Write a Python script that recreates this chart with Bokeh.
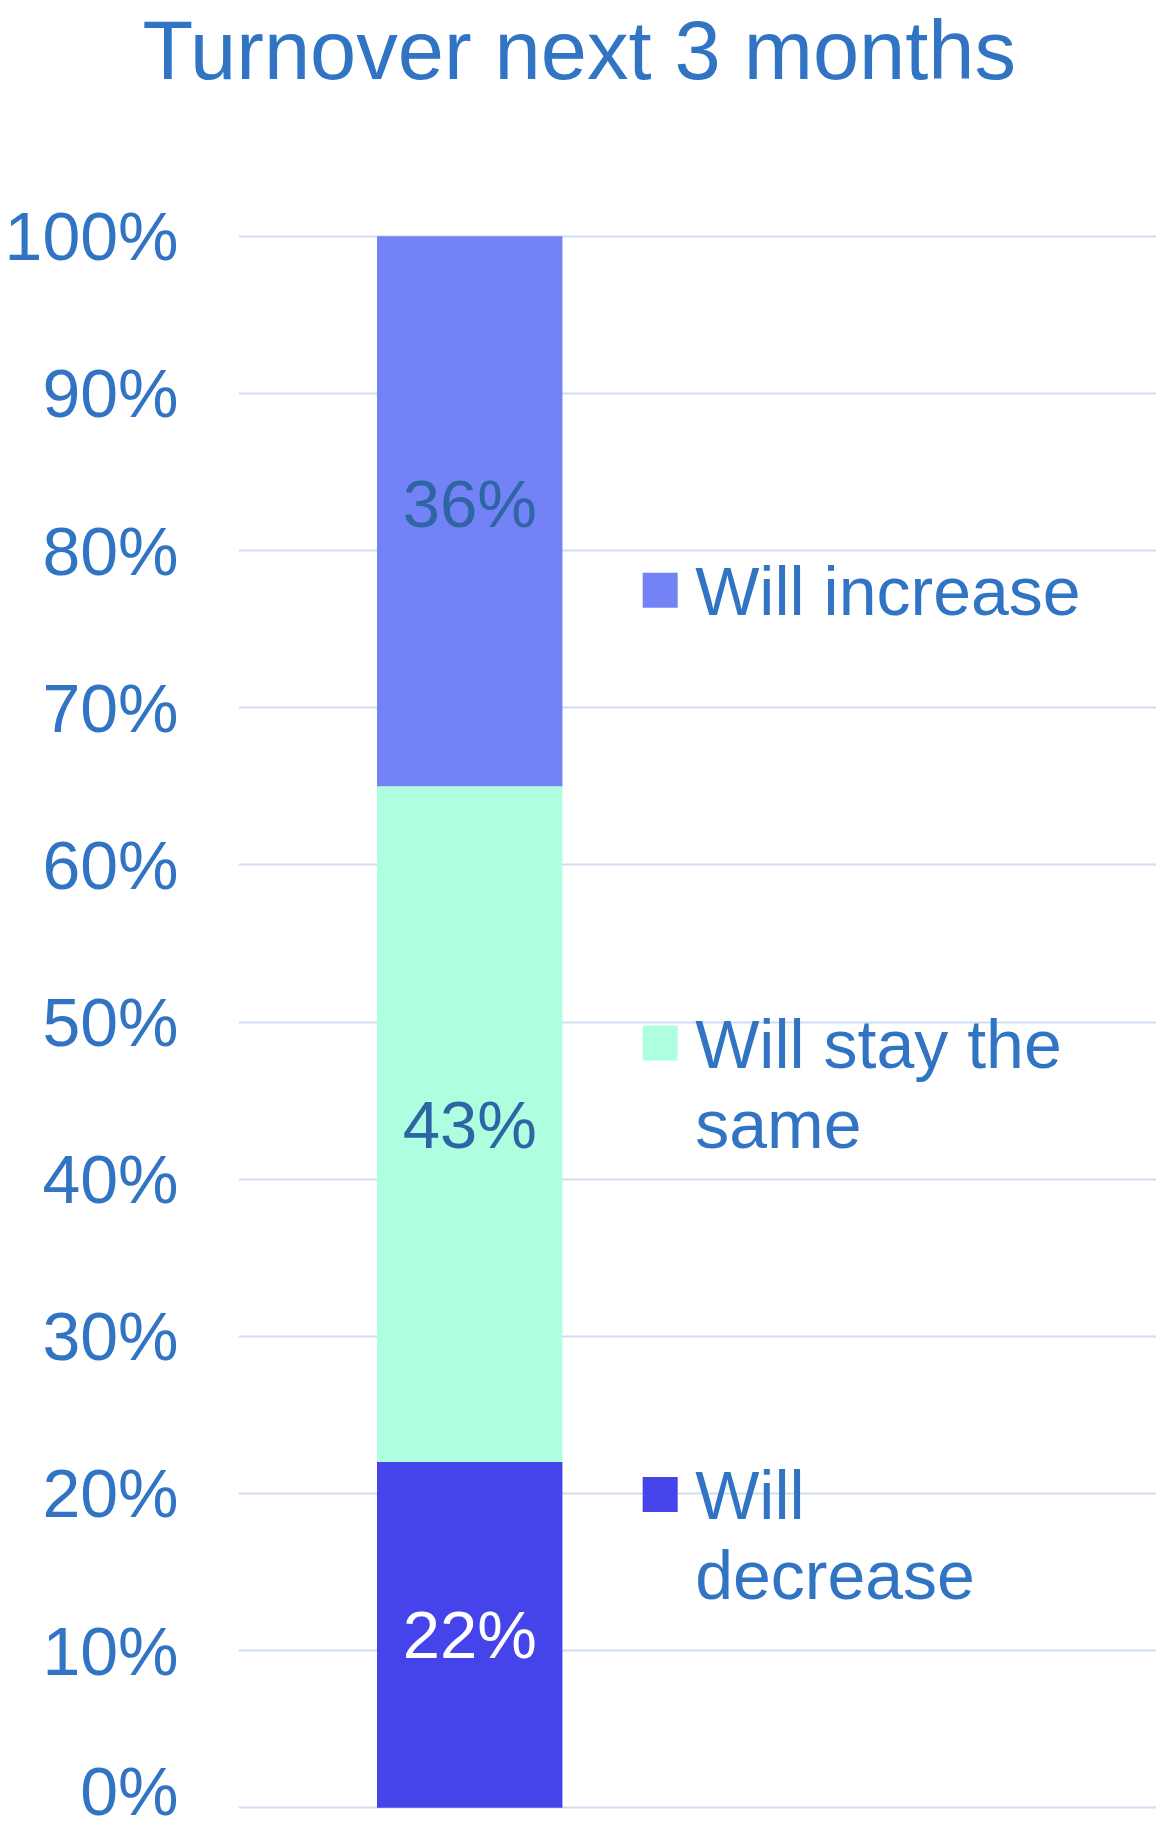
from bokeh.plotting import figure
from bokeh.models import Range1d, FixedTicker, ColumnDataSource, Title
from bokeh.core.properties import value
from bokeh.embed import file_html
from bokeh.resources import INLINE

# ---- data ----
title_text = "Turnover next 3 months"
series_names = ["Will decrease", "Will stay the same", "Will increase"]
series_values = [0.22, 0.43, 0.36]
series_labels = ["22%", "43%", "36%"]
series_colors = ["#4543EA", "#AEFFE0", "#7383F5"]
label_colors = ["#FFFFFF", "#2E65A5", "#2E65A5"]
legend_lines = [["Will", "decrease"], ["Will stay the", "same"], ["Will increase"]]
tick_values = [i / 10 for i in range(11)]
tick_labels = {v: f"{int(round(v * 100))}%" for v in tick_values}
y_min, y_max = 0.0, 1.0

FONT = "Liberation Sans"
BLUE = "#3174C4"

pad = 0.003
p = figure(width=1156, height=1828, output_backend="svg", toolbar_location=None,
           x_range=Range1d(-0.505, 1.5), y_range=Range1d(y_min - pad, y_max + pad))
p.min_border_left = 238
p.min_border_right = 0
p.min_border_top = 231
p.min_border_bottom = 16
p.outline_line_color = None
p.background_fill_color = "white"
p.border_fill_color = "white"

# title (outermost panel, at the top of the canvas)
p.title.text = title_text
p.title.text_font = FONT
p.title.text_font_size = "83px"
p.title.text_font_style = "normal"
p.title.text_color = BLUE
p.title.align = "left"
p.title.vertical_align = "top"
p.title.offset = -96
p.title.standoff = 0

# empty spacer panel between the title and the plotting area
spacer = Title(text=" ", text_font_size="1px", standoff=130, text_color="white")
p.add_layout(spacer, "above")

# axes
p.xaxis.visible = False
p.xgrid.visible = False
ya = p.yaxis[0]
ya.ticker = FixedTicker(ticks=tick_values)
ya.major_label_overrides = tick_labels
ya.axis_line_color = None
ya.major_tick_line_color = None
ya.minor_tick_line_color = None
ya.major_tick_out = 0
ya.major_tick_in = 0
ya.major_label_standoff = 60
ya.major_label_text_font = FONT
ya.major_label_text_font_size = "68px"
ya.major_label_text_color = BLUE
p.ygrid.ticker = FixedTicker(ticks=tick_values)
p.ygrid.grid_line_color = "#CFDDF0"
p.ygrid.grid_line_width = 2

# stacked bar (values stack beyond 100%; the axis stops at 100%)
bottoms, tops, mids = [], [], []
acc = 0.0
for v in series_values:
    bottoms.append(acc)
    tops.append(min(acc + v, y_max))
    mids.append(acc + v / 2)
    acc += v
src = ColumnDataSource(dict(x=[0] * len(series_values), bottom=bottoms, top=tops, mid=mids,
                            color=series_colors, label=series_labels, lcolor=label_colors))
p.vbar(x="x", width=0.405, bottom="bottom", top="top", fill_color="color", line_color=None, source=src)
p.text(x="x", y="mid", text="label", text_color="lcolor", text_align="center",
       text_baseline="middle", text_font=value(FONT), text_font_size="67px", source=src)

# legend (drawn manually)
legend_y = [0.1994, 0.4866, 0.7747]
legend_x = 0.416
p.scatter(x=[legend_x] * 3, y=legend_y, marker="square", size=35,
          fill_color=series_colors, line_color=None)
tx, ty, tt, toff = [], [], [], []
for yy, lines in zip(legend_y, legend_lines):
    for k, ln in enumerate(lines):
        tx.append(legend_x)
        ty.append(yy)
        tt.append(ln)
        toff.append(k * 80 + 1)
p.text(x=tx, y=ty, text=tt, x_offset=35, y_offset=toff, text_color=BLUE,
       text_align="left", text_baseline="middle", text_font=value(FONT), text_font_size="68px")

open("out.html", "w").write(file_html(p, INLINE))
